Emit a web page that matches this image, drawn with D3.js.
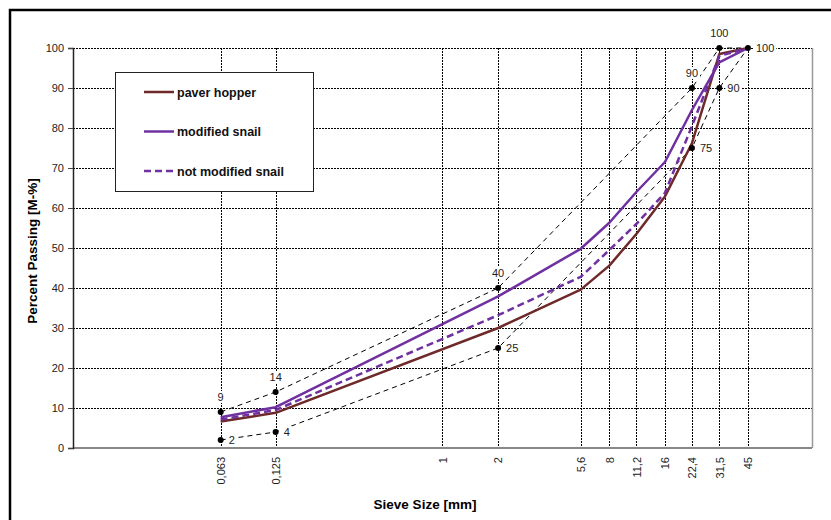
<!DOCTYPE html>
<html>
<head>
<meta charset="utf-8">
<script src="https://cdnjs.cloudflare.com/ajax/libs/d3/7.8.5/d3.min.js"></script>
<style>
  body { margin: 0; background: #fff; }
  svg { display: block; font-family: Arial, "Liberation Sans", sans-serif; }
</style>
</head>
<body>
<svg id="chart" width="831" height="520"></svg>
<script>
// sieve sizes [mm] and tick labels
var sieves = [0.063, 0.125, 1, 2, 5.6, 8, 11.2, 16, 22.4, 31.5, 45];
var sieveLabels = ["0,063", "0,125", "1", "2", "5,6", "8", "11,2", "16", "22,4", "31,5", "45"];
var yTicks = [0, 10, 20, 30, 40, 50, 60, 70, 80, 90, 100];

// grading curves
var curveSieves = [0.063, 0.125, 2, 5.6, 8, 11.2, 16, 22.4, 31.5, 45];
var paverHopper = [6.6, 8.8, 30, 39.6, 45.6, 53.5, 62.9, 76.2, 98.5, 100];
var modifiedSnail = [7.7, 10.2, 37.9, 49.8, 56.3, 64, 71.5, 84.5, 96.4, 100];
var notModifiedSnail = [7.1, 9.5, 33.2, 42.8, 49.5, 56, 63.8, 80.5, 98, 100];

// grading envelope
var upperSieves = [0.063, 0.125, 2, 22.4, 31.5, 45];
var upperLimit = [9, 14, 40, 90, 100, 100];
var lowerSieves = [0.063, 0.125, 2, 22.4, 31.5, 45];
var lowerLimit = [2, 4, 25, 75, 90, 100];

var svg = d3.select("#chart");
var pLeft = 73, pRight = 812, pTop = 48, pBottom = 448;

var x = d3.scaleLog().domain([0.01, 100]).range([pLeft, pRight]);
var y = d3.scaleLinear().domain([0, 100]).range([pBottom, pTop]);

// outer frame
svg.append("rect").attr("x", 10).attr("y", 10).attr("width", 840).attr("height", 540)
    .attr("fill", "none").attr("stroke", "#000").attr("stroke-width", 2.5);

// grid
var grid = svg.append("g");
grid.selectAll(".hg").data(yTicks.slice(1)).enter().append("line")
    .attr("x1", pLeft).attr("x2", pRight)
    .attr("y1", function(d) { return Math.round(y(d)) + 0.5; })
    .attr("y2", function(d) { return Math.round(y(d)) + 0.5; })
    .attr("stroke", "#000").attr("stroke-width", 1).attr("stroke-dasharray", "2,1");
grid.selectAll(".vg").data(sieves).enter().append("line")
    .attr("x1", function(d) { return Math.round(x(d)) + 0.5; })
    .attr("x2", function(d) { return Math.round(x(d)) + 0.5; })
    .attr("y1", pTop).attr("y2", pBottom)
    .attr("stroke", "#000").attr("stroke-width", 1).attr("stroke-dasharray", "2,1");

// plot border
svg.append("line").attr("x1", pRight + 0.5).attr("x2", pRight + 0.5).attr("y1", pTop).attr("y2", pBottom)
    .attr("stroke", "#999").attr("stroke-width", 1.5);
svg.append("line").attr("x1", pLeft).attr("x2", pRight).attr("y1", pBottom).attr("y2", pBottom)
    .attr("stroke", "#888").attr("stroke-width", 2);

// y axis
var yAxis = d3.axisLeft(y).tickValues(yTicks).tickSize(5).tickPadding(4);
var ya = svg.append("g").attr("transform", "translate(" + pLeft + ",0)").call(yAxis);
ya.select(".domain").attr("stroke", "#222").attr("stroke-width", 1.5);
ya.selectAll(".tick line").attr("stroke", "#444");
ya.selectAll("text").attr("font-size", 11).attr("fill", "#222")
    .attr("font-family", "Arial, 'Liberation Sans', sans-serif");

// x axis labels (rotated)
var xAxis = d3.axisBottom(x).tickValues(sieves)
    .tickFormat(function(d, i) { return sieveLabels[i]; }).tickSize(0);
var xa = svg.append("g").attr("transform", "translate(0," + pBottom + ")").call(xAxis);
xa.select(".domain").remove();
xa.selectAll("text")
    .attr("font-size", 11).attr("fill", "#222")
    .attr("font-family", "Arial, 'Liberation Sans', sans-serif")
    .attr("transform", "rotate(-90)")
    .attr("text-anchor", "end")
    .attr("x", -9).attr("y", 0).attr("dy", "0.35em");

// axis titles
svg.append("text").attr("x", 425).attr("y", 509).attr("text-anchor", "middle")
    .attr("font-size", 13.5).attr("font-weight", "bold").text("Sieve Size [mm]");
svg.append("text").attr("transform", "translate(37,251) rotate(-90)").attr("text-anchor", "middle")
    .attr("font-size", 13.5).attr("font-weight", "bold").text("Percent Passing [M-%]");

// envelope lines
var line = d3.line().x(function(d) { return x(d[0]); }).y(function(d) { return y(d[1]); });
var env = svg.append("g");
[[upperSieves, upperLimit], [lowerSieves, lowerLimit]].forEach(function(s) {
  env.append("path").datum(d3.zip(s[0], s[1])).attr("d", line)
      .attr("fill", "none").attr("stroke", "#000").attr("stroke-width", 1)
      .attr("stroke-dasharray", "5,4");
});

// grading curves
var curves = [
  { name: "paver hopper", values: paverHopper, color: "#6E2A2A", dash: null },
  { name: "modified snail", values: modifiedSnail, color: "#7030A0", dash: null },
  { name: "not modified snail", values: notModifiedSnail, color: "#7030A0", dash: "7,4" }
];
curves.forEach(function(c) {
  svg.append("path").datum(d3.zip(curveSieves, c.values)).attr("d", line)
      .attr("fill", "none").attr("stroke", c.color).attr("stroke-width", 2.5)
      .attr("stroke-dasharray", c.dash).attr("stroke-linejoin", "round");
});

// envelope points and labels
function addLabels(xs, vs, pos) {
  xs.forEach(function(s, i) {
    var px = x(s), py = y(vs[i]);
    var tx = pos === "above" ? px : px + 8;
    var ty = pos === "above" ? py - 11 : py + 4;
    var t = svg.append("text").attr("x", tx).attr("y", ty)
        .attr("text-anchor", pos === "above" ? "middle" : "start")
        .attr("font-size", 11).attr("fill", "#222").text(vs[i]);
    var b = t.node().getBBox();
    svg.insert("rect", function() { return t.node(); })
        .attr("x", b.x - 2).attr("y", b.y).attr("width", b.width + 4).attr("height", b.height)
        .attr("fill", "#fff");
    svg.append("circle").attr("cx", px).attr("cy", py).attr("r", 3).attr("fill", "#000");
  });
}
addLabels(upperSieves.slice(0, 5), upperLimit.slice(0, 5), "above");
addLabels(lowerSieves, lowerLimit, "right");

// legend
var lg = svg.append("g");
lg.append("rect").attr("x", 115.5).attr("y", 72.5).attr("width", 198).attr("height", 119)
    .attr("fill", "#fff").attr("stroke", "#222").attr("stroke-width", 1);
curves.forEach(function(c, i) {
  var ly = 92 + i * 39.5;
  lg.append("line").attr("x1", 144).attr("x2", 174).attr("y1", ly).attr("y2", ly)
      .attr("stroke", c.color).attr("stroke-width", 2.5).attr("stroke-dasharray", c.dash);
  lg.append("text").attr("x", 177).attr("y", ly + 4.5).attr("font-size", 12.5)
      .attr("font-weight", "bold").attr("fill", "#111").text(c.name);
});
</script>
</body>
</html>
